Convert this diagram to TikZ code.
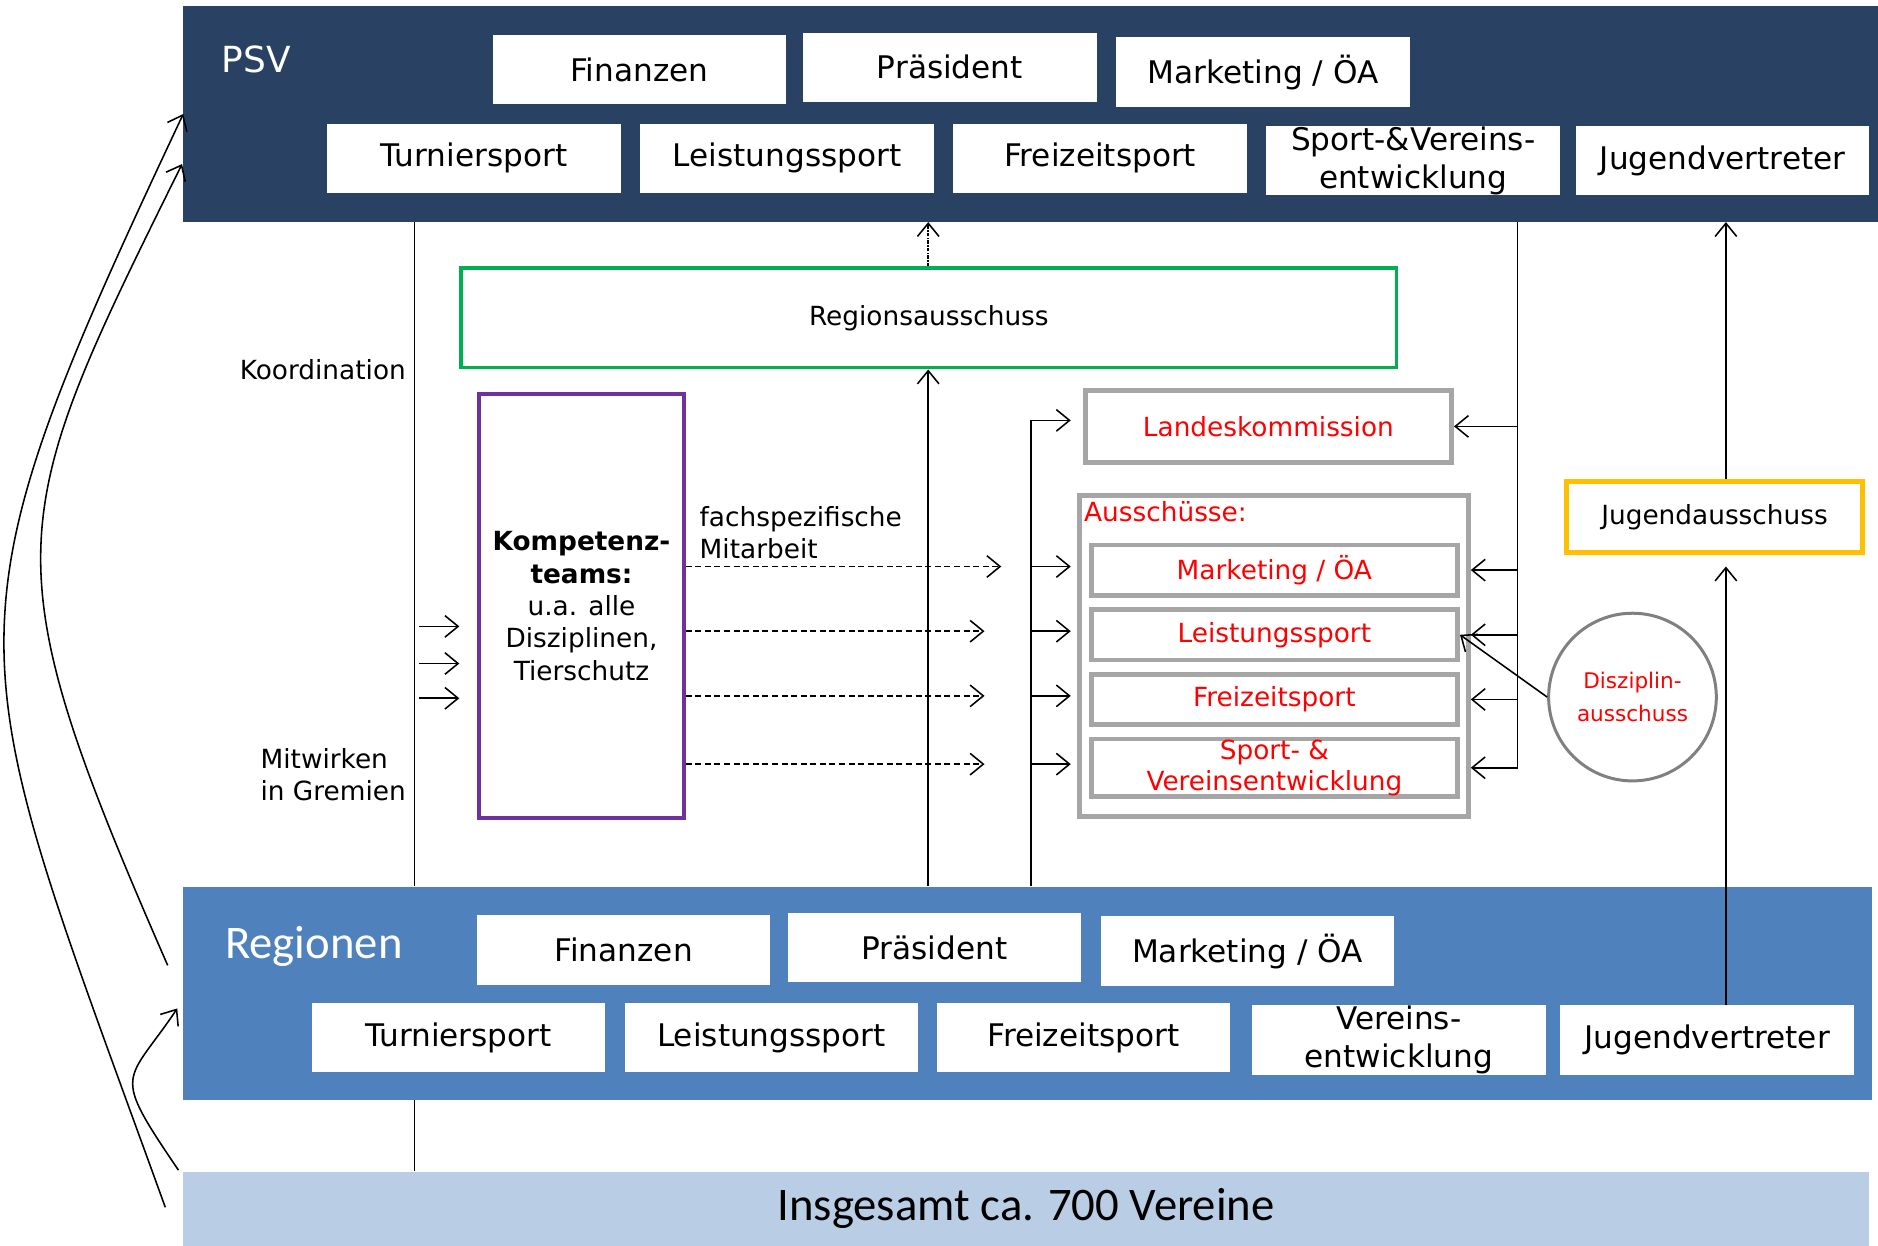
\documentclass[tikz,border=0pt]{standalone}
\usepackage{fontspec}
\setmainfont{DejaVu Sans}
\newfontfamily\carlito{Carlito}
\usetikzlibrary{arrows.meta,positioning}

\definecolor{psvblue}{HTML}{294162}
\definecolor{regblue}{HTML}{4F81BD}
\definecolor{verblue}{HTML}{B9CDE5}
\definecolor{ragreen}{HTML}{00B050}
\definecolor{ktpurple}{HTML}{7030A0}
\definecolor{ausgray}{HTML}{A6A6A6}
\definecolor{jugorange}{HTML}{FFC000}
\definecolor{dizgray}{HTML}{808080}

\tikzset{
  >={Straight Barb[length=11pt,width=18pt]},
  band/.style={anchor=north west, inner sep=0pt},
  amt/.style={fill=white, inner sep=0pt, minimum width=245pt, minimum height=58pt,
    align=center, font=\fontsize{26}{32}\selectfont},
  gremium/.style={draw=ausgray, line width=4pt, inner sep=0pt, text=red,
    minimum width=306pt, align=center, font=\fontsize{22}{26}\selectfont},
  lbl/.style={inner sep=0pt, font=\fontsize{22}{27}\selectfont},
  pfeil/.style={line width=1.3pt},
}

\begin{document}
\begin{tikzpicture}[x=1pt,y=-1pt]
\useasboundingbox (0,0) rectangle (1568,1040);

% Baender
\node[band, fill=psvblue, minimum width=1415pt, minimum height=180pt] (psv) at (153,5) {};
\node[band, fill=regblue, minimum width=1410pt, minimum height=178pt] (reg) at (153,740) {};
\node[band, fill=verblue, minimum width=1407pt, minimum height=62pt,
  font=\carlito\fontsize{39}{44}\selectfont] (vereine) at (153,978) {Insgesamt ca. 700 Vereine};
\node[text=white, font=\fontsize{30}{36}\selectfont] (psvname) at (214,50) {PSV};
\node[text=white, font=\carlito\fontsize{39}{44}\selectfont] (regname) at (262,790) {Regionen};

% PSV
\node[amt, anchor=north west] (pfin) at (411,29) {Finanzen};
\node[amt, right=14pt of pfin, yshift=2pt] (pprae) {Präsident};
\node[amt, right=16pt of pprae, yshift=-4pt] (pmark) {Marketing / ÖA};
\node[amt, anchor=north west] (pturn) at (273,103) {Turniersport};
\node[amt, right=16pt of pturn] (pleist) {Leistungssport};
\node[amt, right=16pt of pleist] (pfrei) {Freizeitsport};
\node[amt, right=16pt of pfrei, yshift=-2pt] (pverein) {Sport-\&Vereins-\\entwicklung};
\node[amt, right=13pt of pverein] (pjug) {Jugendvertreter};

% Regionen
\node[amt, anchor=north west] (rfin) at (398,764) {Finanzen};
\node[amt, right=14pt of rfin, yshift=2pt] (rprae) {Präsident};
\node[amt, right=16pt of rprae, yshift=-3pt] (rmark) {Marketing / ÖA};
\node[amt, anchor=north west] (rturn) at (260,837) {Turniersport};
\node[amt, right=16pt of rturn] (rleist) {Leistungssport};
\node[amt, right=15pt of rleist] (rfrei) {Freizeitsport};
\node[amt, right=18pt of rfrei, yshift=-2pt] (rverein) {Vereins-\\entwicklung};
\node[amt, right=12pt of rverein] (rjug) {Jugendvertreter};

% Gremien
\node[draw=ragreen, line width=3pt, minimum width=781pt, minimum height=83pt, inner sep=0pt,
  font=\fontsize{22}{26}\selectfont] (regaus) at (775.5,265.5) {Regionsausschuss};
\node[draw=ktpurple, line width=3pt, minimum width=171pt, minimum height=354pt, inner sep=0pt,
  align=center, font=\fontsize{22}{27}\selectfont] (kompetenz) at (485.5,506)
  {\textbf{Kompetenz-}\\\textbf{teams:}\\u.a. alle\\Disziplinen,\\Tierschutz};
\node[gremium, minimum height=60pt] (landes) at (1059,356) {Landeskommission};
\node[draw=ausgray, line width=4pt, minimum width=325pt, minimum height=268pt, inner sep=0pt] (aus) at (1063.5,548) {};
\node[lbl, text=red, anchor=west] (austitel) at (905,427) {Ausschüsse:};
\node[gremium, minimum height=42pt] (amark) at (1064,476) {Marketing / ÖA};
\node[gremium, minimum height=42pt, below=8pt of amark] (aleist) {Leistungssport};
\node[gremium, minimum height=42pt, below=8pt of aleist] (afrei) {Freizeitsport};
\node[gremium, minimum height=48pt, below=8pt of afrei] (avere) {Sport- \&\\Vereinsentwicklung};
\node[draw=jugorange, line width=4pt, minimum width=247pt, minimum height=59pt, inner sep=0pt,
  font=\fontsize{22}{26}\selectfont] (jugaus) at (1431.5,431.5) {Jugendausschuss};
\node[circle, draw=dizgray, line width=2.5pt, minimum size=140pt, inner sep=0pt, text=red,
  align=center, font=\fontsize{18}{28}\selectfont] (diszi) at (1363,582) {Disziplin-\\ausschuss};

% Beschriftungen
\node[lbl, anchor=east] (koordlbl) at (339,309) {Koordination};
\node[lbl, anchor=east, align=left] (mitlbl) at (339,647) {Mitwirken\\in Gremien};
\node[lbl, anchor=west, align=left] (fachlbl) at (584,445) {fachspezifische\\Mitarbeit};

% Verbindungen
\coordinate (koordx) at (346,0);
\coordinate (mitte) at (775,0);
\coordinate (busl) at (861,0);
\coordinate (busr) at (1267,0);
\coordinate (jugx) at (1441,0);
\draw[pfeil] (psv.south -| koordx) -- (reg.north -| koordx);
\draw[pfeil] (reg.south -| koordx) -- (vereine.north -| koordx);
\foreach \y in {523,554,583} {
  \coordinate (kin) at (350,\y);
  \draw[pfeil,->,shorten >=15pt] (kin) -- (kin -| kompetenz.west);
}
\foreach \a/\s in {amark/25pt,aleist/39pt,afrei/39pt,avere/39pt}
  \draw[pfeil,->,dash pattern=on 5pt off 3pt,shorten >=\s] ([yshift=3pt]kompetenz.east |- \a.west) -- ([yshift=3pt]busl |- \a.west);

\draw[pfeil,->] (reg.north -| mitte) -- (regaus.south -| mitte);
\draw[pfeil,->,densely dashdotted] (regaus.north -| mitte) -- (psv.south -| mitte);

\draw[pfeil,->,shorten >=10pt] (reg.north -| busl) |- ([yshift=5pt]landes.west);
\foreach \a in {amark,aleist,afrei,avere}
  \draw[pfeil,->,shorten >=5pt] ([yshift=3pt]busl |- \a.west) -- ([yshift=3pt]aus.west |- \a.west);

\draw[pfeil] (psv.south -| busr) -- (busr |- avere.east);
\draw[pfeil,->] (busr |- landes.east) -- (landes.east);
\foreach \a in {amark,aleist,afrei,avere}
  \draw[pfeil,->] (busr |- \a.east) -- (aus.east |- \a.east);

\draw[pfeil,->] (diszi.west) -- (aleist.east);
\draw[pfeil,->] (jugaus.north -| jugx) -- (psv.south -| jugx);
\draw[pfeil,->,shorten >=10pt] (rjug.north -| jugx) -- (jugaus.south -| jugx);

% Boegen links
\coordinate (vonver1) at (138,1008);
\coordinate (vonreg) at (140,806);
\coordinate (vonver2) at (149,977);
\coordinate (inpsv) at (152,137);
\coordinate (inreg) at (148,842);
\draw[pfeil,->] (vonver1) .. controls (-33,535) and (-55,537) .. (psv.west);
\draw[pfeil,->] (vonreg) .. controls (-10,463) and (4,436) .. (inpsv);
\draw[pfeil,->] (vonver2) .. controls (92,893) and (105,906) .. (inreg);
\end{tikzpicture}
\end{document}
